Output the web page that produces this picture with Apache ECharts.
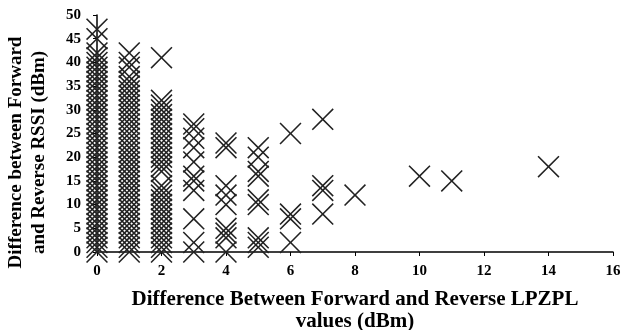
<!DOCTYPE html>
<html>
<head>
<meta charset="utf-8">
<script src="https://cdn.jsdelivr.net/npm/echarts@6/dist/echarts.min.js"></script>
<style>
  html, body { margin: 0; padding: 0; background: #fff; }
  #chart { width: 622px; height: 330px; }
</style>
</head>
<body>
<div id="chart"></div>
<script>
// x values (LPZPL difference) and the RSSI differences seen at each of them
var col0 = [0,1,2,3,4,5,6,7,8,9,10,11,12,13,14,15,16,17,18,19,20,21,22,23,24,25,26,27,28,29,30,31,32,33,34,35,36,37,38,39,40,41,42,45,47];
var col1 = [0,1,2,3,4,5,6,7,8,9,10,11,12,13,14,15,16,17,18,19,20,21,22,23,24,25,26,27,28,29,30,31,32,33,34,35,36,37,39,40,42];
var col2 = [0,1,2,3,4,5,6,7,8,9,10,11,12,13,14,17,18,19,20,21,22,23,24,25,26,27,28,29,30,31,32,41];
var col3 = [0,2,7,13,15,16,19,22,24,26,27];
var col4 = [0,3,4,5,10,12,14,22,23];
var col5 = [1,2,3,10,11,16,17,20,22];
var col6 = [2,7,8,25];
var col7 = [8,13,14,28];
var col8 = [12];
var col10 = [16];
var col11 = [15];
var col14 = [18];

var columns = [[0, col0], [1, col1], [2, col2], [3, col3], [4, col4], [5, col5],
  [6, col6], [7, col7], [8, col8], [10, col10], [11, col11], [14, col14]];

var xTicks = [0, 16, 2];
var yTicks = [0, 50, 5];

var points = [];
columns.forEach(function (c) {
  c[1].forEach(function (y) { points.push([c[0], y]); });
});

// X drawn as a thin filled polygon
var crossPath = 'path://M0,5L5,0L50,45L95,0L100,5L55,50L100,95L95,100L50,55L5,100L0,95L45,50Z';

var font = 'Liberation Serif';
var chart = echarts.init(document.getElementById('chart'));
chart.setOption({
  animation: false,
  grid: { left: 97, right: 9, top: 15, bottom: 78, outerBoundsMode: 'none' },
  xAxis: {
    type: 'value',
    min: xTicks[0], max: xTicks[1], interval: xTicks[2],
    name: 'Difference Between Forward and Reverse LPZPL\nvalues (dBm)',
    nameLocation: 'middle',
    nameGap: 37,
    nameTextStyle: { fontFamily: font, fontWeight: 'bold', fontSize: 21, color: '#000', lineHeight: 22 },
    axisLine: { lineStyle: { color: '#000', width: 1.5 } },
    axisTick: { show: true, length: 4, lineStyle: { color: '#000' } },
    axisLabel: { fontFamily: font, fontWeight: 'bold', fontSize: 15, color: '#000', margin: 12 },
    splitLine: { show: false }
  },
  yAxis: {
    type: 'value',
    min: yTicks[0], max: yTicks[1], interval: yTicks[2],
    name: 'Difference between Forward\nand Reverse RSSI (dBm)',
    nameLocation: 'middle',
    nameGap: 46,
    nameTextStyle: { fontFamily: font, fontWeight: 'bold', fontSize: 19, color: '#000', lineHeight: 23, padding: [0, 38, 0, 0] },
    axisLine: { show: true, lineStyle: { color: '#000', width: 1.5 } },
    axisTick: { show: true, length: 4, lineStyle: { color: '#000' } },
    axisLabel: { fontFamily: font, fontWeight: 'bold', fontSize: 15, color: '#000', margin: 16 },
    splitLine: { show: false }
  },
  series: [{
    type: 'scatter',
    data: points,
    symbol: crossPath,
    symbolSize: 22,
    itemStyle: { color: '#222', opacity: 1 }
  }]
});
</script>
</body>
</html>
